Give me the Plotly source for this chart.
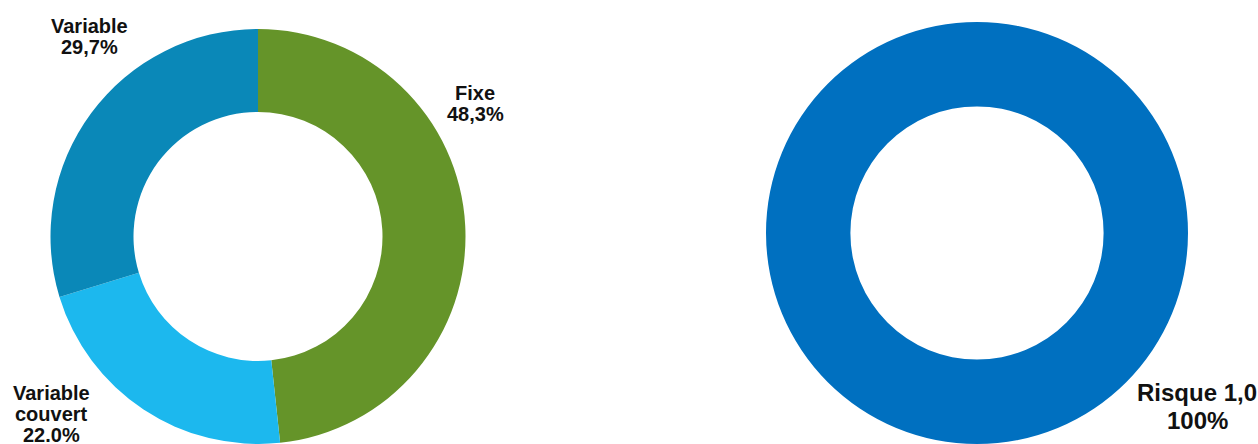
import plotly.graph_objects as go

W, H = 1258, 444

# Left donut: rate structure
left_labels = ["Fixe", "Variable couvert", "Variable"]
left_values = [48.3, 22.0, 29.7]
left_pct = ["48,3%", "22.0%", "29,7%"]
left_colors = ["#659429", "#1CB8EE", "#0A88B8"]

# Right donut: risk class
right_labels = ["Risque 1,0"]
right_values = [100]
right_pct = ["100%"]
right_colors = ["#0070C0"]


def px_domain(cx, cy, r):
    x0, x1 = (cx - r) / W, (cx + r) / W
    y0, y1 = 1 - (cy + r) / H, 1 - (cy - r) / H
    return dict(x=[max(0, x0), min(1, x1)], y=[max(0, y0), min(1, y1)])


fig = go.Figure()
fig.add_trace(go.Pie(
    labels=left_labels, values=left_values, sort=False, direction="clockwise",
    rotation=0, hole=0.6, marker=dict(colors=left_colors, line=dict(width=0)),
    textinfo="none", hoverinfo="label+percent", showlegend=False,
    domain=px_domain(258, 236.5, 207.5),
))
fig.add_trace(go.Pie(
    labels=right_labels, values=right_values, sort=False, direction="clockwise",
    rotation=0, hole=0.6, marker=dict(colors=right_colors, line=dict(width=0)),
    textinfo="none", hoverinfo="label+percent", showlegend=False,
    domain=px_domain(977, 233, 211),
))

# Outside labels: one annotation per text line (x centre, y of line centre in px, font size)
label_lines = [
    (left_labels[0].split() + [left_pct[0]], 475, [92.5, 114.2], 20),
    (["Variable", "couvert", left_pct[1]], 51, [392.7, 414, 435], 20),
    ([left_labels[2], left_pct[2]], 89.5, [25.8, 47.2], 20),
    ([right_labels[0], right_pct[0]], 1197, [392.3, 420], 24),
]
for lines, x, ys, size in label_lines:
    for txt, y in zip(lines, ys):
        fig.add_annotation(
            x=x / W, y=1 - y / H, xref="paper", yref="paper",
            text=f"<b>{txt}</b>", showarrow=False,
            xanchor="center", yanchor="middle",
            font=dict(family="Liberation Sans, Arial, sans-serif", size=size, color="#111111"),
        )

fig.update_layout(
    width=W, height=H, margin=dict(l=0, r=0, t=0, b=0),
    paper_bgcolor="white", plot_bgcolor="white",
)

fig.write_html("out.html")
